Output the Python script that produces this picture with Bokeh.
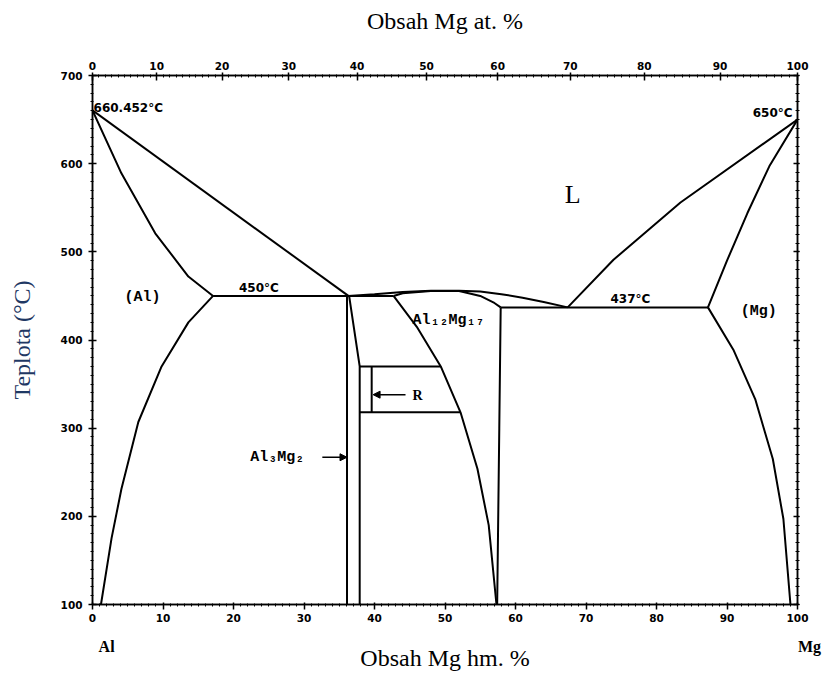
from bokeh.plotting import figure
from bokeh.models import (LinearAxis, FixedTicker, Range1d, Label, Arrow,
                          NormalHead, CustomJSTickFormatter)
from bokeh.embed import file_html
from bokeh.resources import INLINE

# ---------------- data ----------------
wt_ticks = [0, 10, 20, 30, 40, 50, 60, 70, 80, 90, 100]
at_ticks = [0, 10, 20, 30, 40, 50, 60, 70, 80, 90, 100]
temp_ticks = [100, 200, 300, 400, 500, 600, 700]
element_pos = [2.0, 100.0]
element_names = ["Al", "\u00a0" * 6 + "Mg"]
M_AL = 26.98
M_MG = 24.305

al_liq_x = [0.0, 36.3]
al_liq_t = [660.452, 450]
al_sol_x = [0.0, 4.1, 8.9, 13.6, 17.1]
al_sol_t = [660.452, 589, 521, 472, 450]
al_solv_x = [17.1, 13.6, 9.8, 6.5, 4.1, 2.7, 1.2]
al_solv_t = [450, 420, 370, 307, 231, 175, 100]
eut450_x = [17.1, 42.7]
eut450_t = [450, 450]
al3mg2_l_x = [36.1, 36.1]
al3mg2_l_t = [450, 100]
al3mg2_r_x = [36.4, 37.9, 37.9]
al3mg2_r_t = [450, 370, 100]
r_top_x = [37.9, 49.4]
r_top_t = [370, 370]
r_bot_x = [37.9, 52.2]
r_bot_t = [318, 318]
r_x = [39.6, 39.6]
r_t = [318, 370]
b_solv_x = [42.7, 46.0, 49.4, 52.2, 54.6, 56.2, 57.3]
b_solv_t = [450, 415, 370, 318, 254, 190, 100]
b_right_x = [57.9, 57.7, 57.4]
b_right_t = [437, 300, 100]
dome_liq_x = [36.3, 40, 44, 48, 52, 55, 58, 61, 64, 67.4]
dome_liq_t = [450, 452, 454.5, 456, 456, 455, 452, 448, 443, 437]
dome_sol_x = [42.7, 44, 48, 52, 55, 57, 57.9]
dome_sol_t = [450, 453, 455.5, 455.5, 450, 442, 437]
eut437_x = [57.9, 87.3]
eut437_t = [437, 437]
mg_liq_x = [67.4, 73.9, 83.4, 100]
mg_liq_t = [437, 491, 556, 650]
mg_sol_x = [87.3, 90.0, 92.9, 96.0, 100]
mg_sol_t = [437, 490, 544, 597, 650]
mg_solv_x = [87.3, 90.9, 94.0, 96.5, 98.0, 99.0]
mg_solv_t = [437, 389, 333, 265, 197, 100]

curves = [
    (al_liq_x, al_liq_t), (al_sol_x, al_sol_t), (al_solv_x, al_solv_t),
    (eut450_x, eut450_t), (al3mg2_l_x, al3mg2_l_t), (al3mg2_r_x, al3mg2_r_t),
    (r_top_x, r_top_t), (r_bot_x, r_bot_t), (r_x, r_t),
    (b_solv_x, b_solv_t), (b_right_x, b_right_t),
    (dome_liq_x, dome_liq_t), (dome_sol_x, dome_sol_t),
    (eut437_x, eut437_t), (mg_liq_x, mg_liq_t), (mg_sol_x, mg_sol_t),
    (mg_solv_x, mg_solv_t),
]


def at_to_wt(a):
    return round(100.0 * a * M_MG / (a * M_MG + (100 - a) * M_AL), 4)


# ---------------- figure ----------------
p = figure(width=823, height=673, x_range=Range1d(0, 100), y_range=Range1d(100, 700),
           output_backend="svg", toolbar_location=None,
           min_border_left=92, min_border_right=26, min_border_top=75, min_border_bottom=67)
p.grid.visible = False
p.outline_line_color = "black"
p.outline_line_width = 1.5
p.background_fill_color = "white"
p.border_fill_color = "white"

TICK_FONT = "DejaVu Sans"
TITLE_FONT = "Liberation Serif"


def style_axis(ax):
    ax.axis_line_width = 1.5
    ax.axis_line_color = "black"
    ax.major_tick_line_width = 1.5
    ax.major_tick_line_color = "black"
    ax.minor_tick_line_width = 1
    ax.minor_tick_line_color = "black"
    ax.major_label_text_font = TICK_FONT
    ax.major_label_text_font_style = "bold"
    ax.major_label_text_font_size = "10.5px"
    ax.major_label_text_color = "black"


def style_title(ax, text, standoff, color="black"):
    ax.axis_label = text
    ax.axis_label_text_font = TITLE_FONT
    ax.axis_label_text_font_size = "24px"
    ax.axis_label_text_font_style = "normal"
    ax.axis_label_text_color = color
    ax.axis_label_standoff = standoff


# bottom axis (wt. %)
xa = p.xaxis[0]
xa.ticker = FixedTicker(ticks=wt_ticks, minor_ticks=list(range(0, 101)))
style_axis(xa)
xa.major_tick_out = 5
xa.major_tick_in = 2
xa.minor_tick_out = 2
xa.minor_tick_in = 1
xa.major_label_standoff = 4

# second bottom axis: element names + title
ea = LinearAxis(ticker=FixedTicker(ticks=element_pos),
                major_label_overrides={pos: n for pos, n in zip(element_pos, element_names)})
ea.axis_line_color = None
ea.major_tick_line_color = None
ea.minor_tick_line_color = None
ea.major_tick_out = 0
ea.major_tick_in = 0
ea.minor_tick_out = 0
ea.minor_tick_in = 0
ea.major_label_standoff = 13
ea.major_label_text_font = TITLE_FONT
ea.major_label_text_font_style = "bold"
ea.major_label_text_font_size = "16px"
ea.major_label_text_color = "black"
style_title(ea, "Obsah Mg hm. %", -13)
p.add_layout(ea, "below")

# left axis
ya = p.yaxis[0]
ya.ticker = FixedTicker(ticks=temp_ticks, minor_ticks=list(range(100, 701, 10)))
style_axis(ya)
ya.major_tick_out = 4
ya.major_tick_in = 4
ya.minor_tick_out = 2
ya.minor_tick_in = 1
ya.major_label_standoff = 6
style_title(ya, "Teplota (°C)", 23, color="#1f3864")

# top axis (at. %)
top_pos = [at_to_wt(a) for a in at_ticks]
top_minor = [at_to_wt(a) for a in range(0, 101)]
ta = LinearAxis(ticker=FixedTicker(ticks=top_pos, minor_ticks=top_minor),
                major_label_overrides={pos: str(a) for pos, a in zip(top_pos, at_ticks)})
style_axis(ta)
ta.major_tick_out = 3
ta.major_tick_in = 5
ta.minor_tick_out = 1
ta.minor_tick_in = 2
ta.major_label_standoff = 3
style_title(ta, "Obsah Mg at. %", 25)
p.add_layout(ta, "above")

# right axis (ticks only)
ra = LinearAxis(ticker=FixedTicker(ticks=temp_ticks, minor_ticks=list(range(100, 701, 10))),
                formatter=CustomJSTickFormatter(code="return ''"))
style_axis(ra)
ra.major_tick_out = 2
ra.major_tick_in = 4
ra.minor_tick_out = 2
ra.minor_tick_in = 2
p.add_layout(ra, "right")

# ---------------- curves ----------------
for xs, ts in curves:
    p.line(xs, ts, line_color="black", line_width=2)


# ---------------- labels ----------------
def lab(x, y, text, font="DejaVu Sans", size="12px", style="bold",
        align="center", baseline="middle", color="black"):
    p.add_layout(Label(x=x, y=y, text=text, text_font=font, text_font_size=size,
                       text_font_style=style, text_align=align,
                       text_baseline=baseline, text_color=color))


lab(0.15, 655, "660.452°C", size="12px", align="left", baseline="bottom")
lab(99.3, 650, "650°C", size="12px", align="right", baseline="bottom")
lab(23.6, 451, "450°C", size="12px", baseline="bottom")
lab(76.3, 438, "437°C", size="12px", baseline="bottom")
lab(68.1, 565, "L", font=TITLE_FONT, size="26px", style="normal")
lab(7.1, 448, "(Al)", font="Liberation Mono", size="15px")
lab(94.5, 432, "(Mg)", font="Liberation Mono", size="15px")
lab(50.5, 422, "Al₁₂Mg₁₇", font="Liberation Mono", size="15px")
lab(46.1, 337, "R", font=TITLE_FONT, size="14px", style="bold")
lab(26.2, 267, "Al₃Mg₂", font="Liberation Mono", size="15px")

# arrows
p.add_layout(Arrow(end=NormalHead(size=7, fill_color="black", line_color="black"),
                   x_start=44.4, y_start=338, x_end=39.8, y_end=338,
                   line_color="black", line_width=1.5))
p.add_layout(Arrow(end=NormalHead(size=7, fill_color="black", line_color="black"),
                   x_start=32.6, y_start=267, x_end=36.1, y_end=267,
                   line_color="black", line_width=1.5))

open("out.html", "w").write(file_html(p, INLINE))
